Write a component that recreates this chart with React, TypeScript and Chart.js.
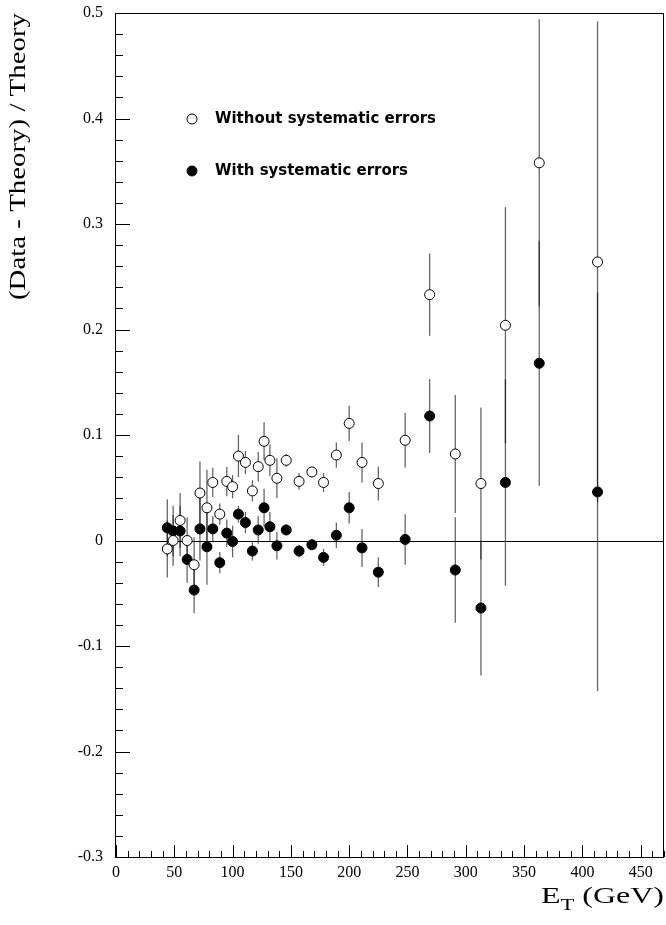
import React, { useEffect, useRef } from "react";
import { Chart, registerables } from "chart.js";

Chart.register(...registerables);

// E_T bin centres (GeV)
const etValues = [44, 49, 55, 61, 67, 72, 78, 83, 89, 95, 100, 105, 111, 117, 122, 127, 132, 138, 146, 157, 168, 178, 189, 200, 211, 225, 248, 269, 291, 313, 334, 363, 413];

// Without systematic errors (open circles)
const noSystValues = [-0.008, 0.0, 0.019, 0.0, -0.023, 0.045, 0.031, 0.055, 0.025, 0.056, 0.051, 0.080, 0.074, 0.047, 0.070, 0.094, 0.076, 0.059, 0.076, 0.056, 0.065, 0.055, 0.081, 0.111, 0.074, 0.054, 0.095, 0.233, 0.082, 0.054, 0.204, 0.358, 0.264];
const noSystErrors = [0.027, 0.024, 0.026, 0.022, 0.026, 0.030, 0.036, 0.014, 0.010, 0.014, 0.011, 0.020, 0.011, 0.010, 0.014, 0.018, 0.015, 0.019, 0.006, 0.008, 0.005, 0.009, 0.012, 0.017, 0.019, 0.016, 0.026, 0.039, 0.056, 0.072, 0.112, 0.136, 0.228];

// With systematic errors (filled circles)
const withSystValues = [0.012, 0.009, 0.009, -0.018, -0.047, 0.011, -0.006, 0.011, -0.021, 0.007, -0.001, 0.025, 0.017, -0.010, 0.010, 0.031, 0.013, -0.005, 0.010, -0.010, -0.004, -0.016, 0.005, 0.031, -0.007, -0.030, 0.001, 0.118, -0.028, -0.064, 0.055, 0.168, 0.046];
const withSystErrors = [0.027, 0.024, 0.024, 0.022, 0.022, 0.030, 0.036, 0.012, 0.010, 0.013, 0.015, 0.008, 0.010, 0.009, 0.013, 0.018, 0.014, 0.013, 0.005, 0.006, 0.005, 0.008, 0.012, 0.015, 0.018, 0.014, 0.024, 0.035, 0.050, 0.064, 0.098, 0.116, 0.189];

// Axis tick labels
const xTickValues = [0, 50, 100, 150, 200, 250, 300, 350, 400, 450];
const yTickValues = [-0.3, -0.2, -0.1, 0, 0.1, 0.2, 0.3, 0.4, 0.5];

const seriesLabels = ["Without systematic errors", "With systematic errors"];
const xTitle = { main: "E", sub: "T", rest: " (GeV)" };
const yTitle = "(Data - Theory) / Theory";

const X_MIN = 0, X_MAX = 470, Y_MIN = -0.3, Y_MAX = 0.5;

export default function App() {
  const ref = useRef<HTMLCanvasElement | null>(null);

  useEffect(() => {
    const canvas = ref.current;
    if (!canvas) return;

    const errorsByDataset = [noSystErrors, withSystErrors];

    const fitText = (ctx: CanvasRenderingContext2D, text: string, x: number, y: number, targetWidth: number) => {
      const w = ctx.measureText(text).width;
      const sx = targetWidth / w;
      ctx.save();
      ctx.translate(x, y);
      ctx.scale(sx, 1);
      ctx.fillText(text, 0, 0);
      ctx.restore();
    };

    const framePlugin = {
      id: "framePlugin",
      beforeDatasetsDraw(chart: any) {
        const { ctx, chartArea: a, scales } = chart;
        const xs = scales.x, ys = scales.y;
        ctx.save();
        ctx.strokeStyle = "#000";
        ctx.lineWidth = 1;
        const y0 = Math.round(ys.getPixelForValue(0)) + 0.5;
        ctx.beginPath();
        ctx.moveTo(a.left, y0);
        ctx.lineTo(a.right, y0);
        ctx.stroke();
        ctx.beginPath();
        ctx.rect(a.left, a.top, a.right - a.left, a.bottom - a.top);
        ctx.clip();
        ctx.strokeStyle = "rgba(0,0,0,0.6)";
        ctx.lineWidth = 1.3;
        chart.data.datasets.forEach((ds: any, di: number) => {
          const errs = errorsByDataset[di];
          ds.data.forEach((p: any, i: number) => {
            const px = xs.getPixelForValue(p.x);
            const yt = ys.getPixelForValue(p.y + errs[i]);
            const yb = ys.getPixelForValue(p.y - errs[i]);
            ctx.beginPath();
            ctx.moveTo(px, yt);
            ctx.lineTo(px, yb);
            ctx.stroke();
          });
        });
        ctx.restore();
      },
      afterDraw(chart: any) {
        const { ctx, chartArea: a, scales } = chart;
        const xs = scales.x, ys = scales.y;
        ctx.save();
        ctx.strokeStyle = "#000";
        ctx.lineWidth = 1;
        ctx.strokeRect(Math.round(a.left) - 0.5, Math.round(a.top) + 0.5, Math.round(a.right - a.left), Math.round(a.bottom - a.top));
        for (let k = 0; k <= 40; k++) {
          const v = Y_MIN + k * 0.02;
          const major = k % 5 === 0;
          const py = Math.round(ys.getPixelForValue(v)) + 0.5;
          ctx.beginPath();
          ctx.moveTo(a.left, py);
          ctx.lineTo(a.left + (major ? 14 : 7), py);
          ctx.stroke();
        }
        for (let v = X_MIN; v <= X_MAX; v += 10) {
          const major = v % 50 === 0;
          const px = Math.round(xs.getPixelForValue(v)) + 0.5;
          ctx.beginPath();
          ctx.moveTo(px, a.bottom);
          ctx.lineTo(px, a.bottom - (major ? 12 : 6));
          ctx.stroke();
        }
        // y title
        ctx.fillStyle = "#000";
        ctx.font = "24px 'Liberation Serif'";
        ctx.translate(25, a.top);
        ctx.rotate(-Math.PI / 2);
        ctx.textAlign = "left";
        ctx.textBaseline = "alphabetic";
        fitText(ctx, yTitle, -287, 0, 287);
        ctx.restore();

        // x title
        ctx.save();
        ctx.fillStyle = "#000";
        ctx.textBaseline = "alphabetic";
        ctx.textAlign = "left";
        const mainFont = "24px 'Liberation Serif'";
        const subFont = "17px 'Liberation Serif'";
        ctx.font = mainFont;
        const wMain = ctx.measureText(xTitle.main).width;
        const wRest = ctx.measureText(xTitle.rest).width;
        ctx.font = subFont;
        const wSub = ctx.measureText(xTitle.sub).width;
        const total = wMain + wSub + wRest;
        const targetW = 123;
        const sx = targetW / total;
        const x0 = a.right - targetW;
        const base = 903;
        ctx.translate(x0, base);
        ctx.scale(sx, 1);
        ctx.font = mainFont;
        ctx.fillText(xTitle.main, 0, 0);
        ctx.font = subFont;
        ctx.fillText(xTitle.sub, wMain, 7);
        ctx.font = mainFont;
        ctx.fillText(xTitle.rest, wMain + wSub, 0);
        ctx.restore();

        // legend
        ctx.save();
        const legendY = [119, 171];
        const legendW = [221, 193];
        chart.data.datasets.forEach((ds: any, di: number) => {
          const cy = legendY[di];
          ctx.beginPath();
          ctx.arc(192, cy, 5, 0, Math.PI * 2);
          ctx.fillStyle = ds.backgroundColor;
          ctx.fill();
          ctx.lineWidth = 1;
          ctx.strokeStyle = "#000";
          ctx.stroke();
          ctx.fillStyle = "#000";
          ctx.font = "bold 16px 'DejaVu Sans'";
          ctx.textBaseline = "middle";
          ctx.textAlign = "left";
          fitText(ctx, seriesLabels[di], 215, cy, legendW[di]);
        });
        ctx.restore();
      },
    };

    const chart = new Chart(canvas, {
      type: "scatter",
      data: {
        datasets: [
          {
            label: seriesLabels[0],
            data: etValues.map((x, i) => ({ x, y: noSystValues[i] })),
            backgroundColor: "#ffffff",
            borderColor: "#000000",
            borderWidth: 1,
            pointRadius: 5,
            pointHoverRadius: 5,
          },
          {
            label: seriesLabels[1],
            data: etValues.map((x, i) => ({ x, y: withSystValues[i] })),
            backgroundColor: "#000000",
            borderColor: "#000000",
            borderWidth: 1,
            pointRadius: 5,
            pointHoverRadius: 5,
          },
        ],
      },
      options: {
        responsive: false,
        animation: false,
        layout: { autoPadding: false, padding: { left: 0, right: 2, top: 13, bottom: 0 } },
        plugins: { legend: { display: false }, tooltip: { enabled: false } },
        scales: {
          x: {
            type: "linear",
            min: X_MIN,
            max: X_MAX,
            grid: { display: false, drawTicks: false },
            border: { display: false },
            afterBuildTicks: (s: any) => {
              s.ticks = xTickValues.map((v) => ({ value: v }));
            },
            afterFit: (s: any) => {
              s.height = 68;
              s.paddingLeft = 0;
              s.paddingRight = 0;
            },
            ticks: {
              padding: 6,
              color: "#000",
              font: { family: "'Liberation Serif'", size: 16 },
              maxRotation: 0,
              autoSkip: false,
              callback: (v: any) => String(v),
            },
          },
          y: {
            type: "linear",
            min: Y_MIN,
            max: Y_MAX,
            grid: { display: false, drawTicks: false },
            border: { display: false },
            afterBuildTicks: (s: any) => {
              s.ticks = yTickValues.map((v) => ({ value: v }));
            },
            afterFit: (s: any) => {
              s.width = 116;
              s.paddingTop = 0;
              s.paddingBottom = 0;
            },
            ticks: {
              padding: 13,
              color: "#000",
              font: { family: "'Liberation Serif'", size: 16 },
              callback: (v: any) => {
                const r = Math.round(Number(v) * 10) / 10;
                return r === 0 ? "0" : r.toFixed(1);
              },
            },
          },
        },
      },
      plugins: [framePlugin],
    });

    return () => chart.destroy();
  }, []);

  return (
    <div style={{ position: "absolute", left: 0, top: 0, width: 666, height: 925, background: "#fff" }}>
      <canvas ref={ref} width={666} height={925} style={{ display: "block" }} />
    </div>
  );
}
